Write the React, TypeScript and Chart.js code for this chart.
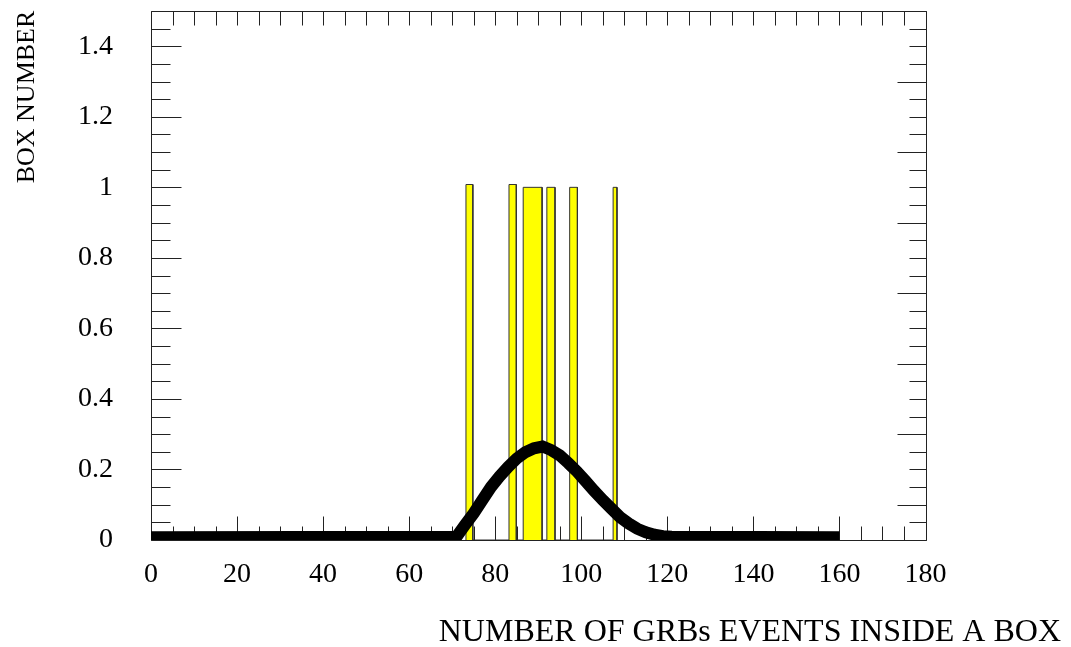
import React, { useEffect, useRef } from "react";
import { Chart, registerables } from "chart.js";

Chart.register(...registerables);

// ---- data ----
const X_MIN = 0;
const X_MAX = 180;
const X_TICK_STEP = 20;
const Y_MIN = 0;
const Y_MAX = 1.5;
const Y_TICK_STEP = 0.2;

// yellow histogram boxes (bin edges and heights)
const binLow = [73.2, 83.2, 86.5, 92.0, 97.3, 107.4];
const binHigh = [74.8, 84.9, 90.9, 93.9, 99.1, 108.3];
const binHeight = [1.008, 1.008, 1.0, 1.0, 1.0, 1.0];

// thick black curve
const curveX = [0, 71, 73, 75, 77, 79, 81, 83, 85, 87, 89, 91, 93, 95, 97, 99, 101, 103, 105, 107, 109, 111, 113, 115, 117, 119, 121, 160];
const curveY = [0.008, 0.009, 0.043, 0.076, 0.113, 0.15, 0.18, 0.207, 0.231, 0.249, 0.26, 0.265, 0.255, 0.24, 0.218, 0.194, 0.167, 0.139, 0.113, 0.089, 0.065, 0.047, 0.032, 0.022, 0.015, 0.011, 0.009, 0.008];

const X_TITLE = "NUMBER OF GRBs EVENTS INSIDE A BOX";
const Y_TITLE = "BOX NUMBER";

const SERIF = "'Liberation Serif', 'Times New Roman', serif";

const frameTicks = {
  id: "frameTicks",
  beforeDatasetsDraw(chart: any) {
    const { ctx, chartArea: a, scales } = chart;
    const x = scales.x;
    const y = scales.y;
    ctx.save();
    ctx.strokeStyle = "#222";
    ctx.lineWidth = 1;
    ctx.beginPath();
    const L = Math.round(a.left) + 0.5;
    const R = Math.round(a.right) + 0.5;
    const T = Math.round(a.top) + 0.5;
    const B = Math.round(a.bottom) + 0.5;
    ctx.moveTo(L, T);
    ctx.lineTo(R, T);
    ctx.lineTo(R, B);
    ctx.lineTo(L, B);
    ctx.closePath();
    // x ticks every 5 units
    for (let i = 0; i <= 36; i++) {
      const v = i * 5;
      const px = Math.round(x.getPixelForValue(v)) + 0.5;
      const major = v % 20 === 0;
      ctx.moveTo(px, B);
      ctx.lineTo(px, B - (major ? 24 : 14));
      ctx.moveTo(px, T);
      ctx.lineTo(px, T + 14);
    }
    // y ticks every 0.05
    for (let i = 0; i <= 30; i++) {
      const v = i * 0.05;
      const py = Math.round(y.getPixelForValue(v)) + 0.5;
      const leftMajor = i % 4 === 0;
      const rightMajor = i % 4 === 2;
      ctx.moveTo(L, py);
      ctx.lineTo(L + (leftMajor ? 30 : 19), py);
      ctx.moveTo(R, py);
      ctx.lineTo(R - (rightMajor ? 29 : 17), py);
    }
    ctx.stroke();
    ctx.restore();
  },
  afterDraw(chart: any) {
    const { ctx } = chart;
    ctx.save();
    ctx.fillStyle = "#000";
    ctx.font = `32px ${SERIF}`;
    ctx.textAlign = "right";
    ctx.textBaseline = "alphabetic";
    ctx.fillText(X_TITLE, 1061, 641);
    ctx.translate(34, 97);
    ctx.rotate(-Math.PI / 2);
    ctx.font = `26px ${SERIF}`;
    ctx.textAlign = "center";
    ctx.fillText(Y_TITLE, 0, 0);
    ctx.restore();
  },
};

export default function App() {
  const ref = useRef<HTMLCanvasElement | null>(null);

  useEffect(() => {
    if (!ref.current) return;
    const barPoints: { x: number; y: number }[] = [];
    for (let i = 0; i < binLow.length; i++) {
      barPoints.push({ x: binLow[i], y: 0 });
      barPoints.push({ x: binLow[i], y: binHeight[i] });
      barPoints.push({ x: binHigh[i], y: binHeight[i] });
      barPoints.push({ x: binHigh[i], y: 0 });
    }
    const curvePoints = curveX.map((x, i) => ({ x, y: curveY[i] }));

    const chart = new Chart(ref.current, {
      type: "scatter",
      data: {
        datasets: [
          {
            label: "curve",
            data: curvePoints,
            showLine: true,
            borderColor: "#000",
            borderWidth: 12,
            pointRadius: 0,
            fill: false,
            tension: 0,
            borderCapStyle: "butt",
            borderJoinStyle: "miter",
            order: 0,
          },
          {
            label: "boxes",
            data: barPoints,
            showLine: true,
            borderColor: "#333",
            borderWidth: 1,
            backgroundColor: "#ffff00",
            pointRadius: 0,
            fill: "origin",
            tension: 0,
            order: 1,
          },
        ],
      },
      options: {
        animation: false,
        responsive: true,
        maintainAspectRatio: false,
        events: [],
        layout: {
          autoPadding: false,
          padding: { left: 0, top: 11, right: 145.5, bottom: 0 },
        },
        plugins: {
          legend: { display: false },
          tooltip: { enabled: false },
          title: { display: false },
        },
        scales: {
          x: {
            type: "linear",
            min: X_MIN,
            max: X_MAX,
            grid: { display: false, drawTicks: false },
            border: { display: false },
            ticks: {
              stepSize: X_TICK_STEP,
              padding: 18,
              color: "#000",
              maxRotation: 0,
              font: { family: SERIF, size: 28 },
              callback: (v: any) => String(Math.round(Number(v))),
            },
            afterFit: (s: any) => {
              s.height = 107;
              s.paddingLeft = 0;
              s.paddingRight = 0;
              s.paddingTop = 0;
              s.paddingBottom = 0;
            },
          },
          y: {
            type: "linear",
            min: Y_MIN,
            max: Y_MAX,
            grid: { display: false, drawTicks: false },
            border: { display: false },
            ticks: {
              stepSize: Y_TICK_STEP,
              includeBounds: false,
              padding: 38,
              color: "#000",
              font: { family: SERIF, size: 28 },
              callback: (v: any) => String(Math.round(Number(v) * 10) / 10),
            },
            afterFit: (s: any) => {
              s.width = 151;
              s.paddingLeft = 0;
              s.paddingRight = 0;
              s.paddingTop = 0;
              s.paddingBottom = 0;
            },
          },
        },
      },
      plugins: [frameTicks],
    });
    return () => chart.destroy();
  }, []);

  return (
    <div style={{ position: "absolute", left: 0, top: 0, width: 1071, height: 647, background: "#fff" }}>
      <canvas ref={ref} />
    </div>
  );
}
